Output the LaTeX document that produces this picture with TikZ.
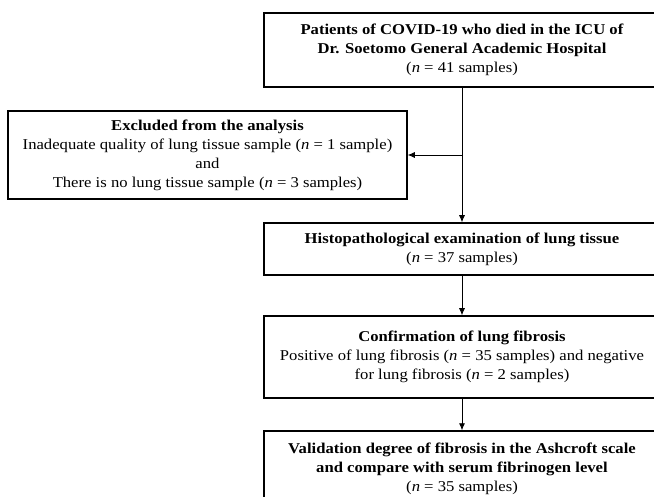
\documentclass[tikz,border=0pt]{standalone}
\usepackage{fontspec}
\setmainfont{Liberation Serif}[FakeStretch=1.11]
\usetikzlibrary{arrows.meta}

\tikzset{
    box/.style={draw, line width=1.5pt, align=center, inner sep=0pt,
        font=\fontsize{15}{19}\selectfont},
    arr/.style={-{Latex[length=7pt, width=6pt]}, line width=0.8pt}
}

\begin{document}
\begin{tikzpicture}[x=1pt, y=-1pt]
    \useasboundingbox (0,0) rectangle (654,497);
    \clip (0,0) rectangle (654,497);
    % main column
    \node[box, minimum width=396pt, minimum height=74pt] (patients) at (462,50)
        {\textbf{Patients of COVID-19 who died in the ICU of}\\
         \textbf{Dr. Soetomo General Academic Hospital}\\
         (\textit{n} = 41 samples)};
    \node[box, minimum width=399pt, minimum height=88pt] (excluded) at (207.5,155)
        {\textbf{Excluded from the analysis}\\
         Inadequate quality of lung tissue sample (\textit{n} = 1 sample)\\
         and\\
         There is no lung tissue sample (\textit{n} = 3 samples)};
    \node[box, minimum width=396pt, minimum height=52pt] (histo) at (462,249)
        {\textbf{Histopathological examination of lung tissue}\\
         (\textit{n} = 37 samples)};
    \node[box, minimum width=396pt, minimum height=82pt] (fibrosis) at (462,357)
        {\textbf{Confirmation of lung fibrosis}\\
         Positive of lung fibrosis (\textit{n} = 35 samples) and negative\\
         for lung fibrosis (\textit{n} = 2 samples)};
    \node[box, minimum width=396pt, minimum height=76pt] (ashcroft) at (462,469)
        {\textbf{Validation degree of fibrosis in the Ashcroft scale}\\
         \textbf{and compare with serum fibrinogen level}\\
         (\textit{n} = 35 samples)};
    % connectors
    \coordinate (split) at (patients.south |- excluded.east);
    \draw[arr] (patients.south) -- (histo.north);
    \draw[arr] (split) -- (excluded.east);
    \draw[arr] (histo.south) -- (fibrosis.north);
    \draw[arr] (fibrosis.south) -- (ashcroft.north);
\end{tikzpicture}
\end{document}
